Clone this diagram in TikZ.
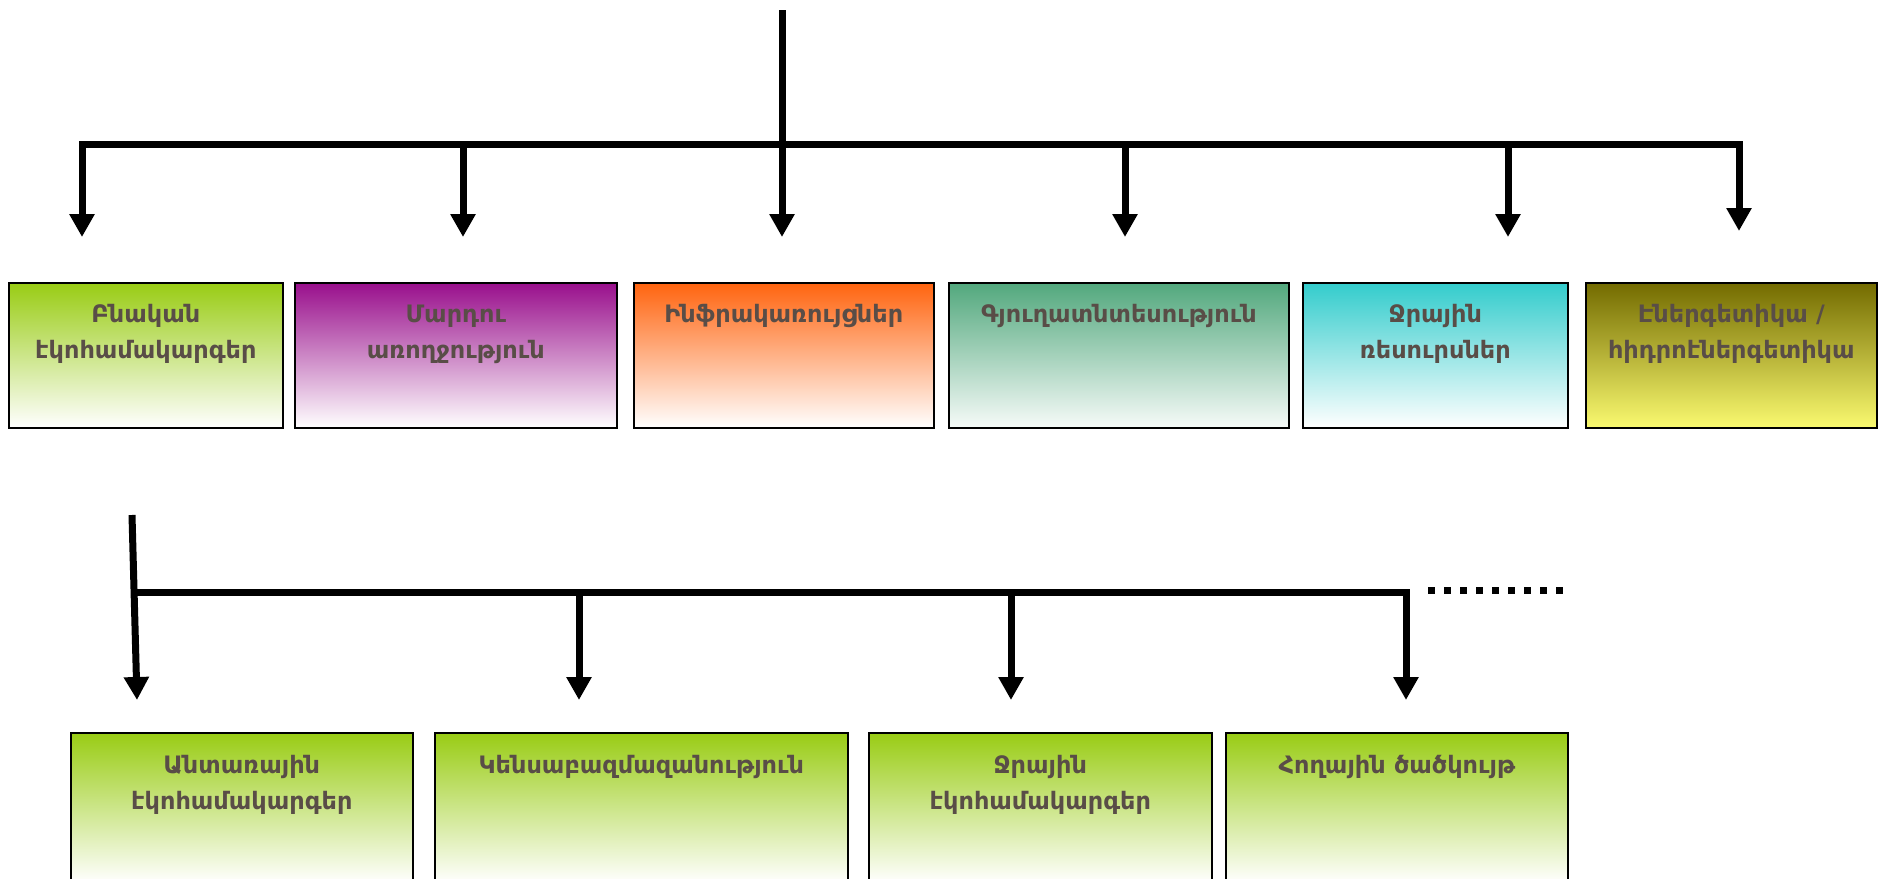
\documentclass[tikz,border=0pt]{standalone}
\usepackage{fontspec}
\setmainfont{DejaVu Sans}
\usetikzlibrary{arrows.meta}
\definecolor{txtgray}{HTML}{594D47}
\definecolor{grnA}{HTML}{99CC14}
\definecolor{purA}{HTML}{990F8C}
\definecolor{orgA}{HTML}{FF640F}
\definecolor{tealA}{HTML}{52A87D}
\definecolor{cyanA}{HTML}{33CCCC}
\definecolor{oliveA}{HTML}{736B00}
\definecolor{yelA}{HTML}{FAFA70}

\begin{document}
\begin{tikzpicture}[x=1pt,y=-1pt,
  box/.style={draw=black,line width=1.6pt,anchor=north west,inner sep=0pt},
  lbl/.style={anchor=base,align=center,text=txtgray,inner sep=0pt,
    font=\bfseries\fontsize{24}{36}\selectfont},
  arr/.style={line width=7pt,-{Triangle[width=24pt,length=23pt]}},
  twoarr/.style={line width=7pt,{Triangle[width=24pt,length=23pt]}-{Triangle[width=24pt,length=23pt]}}]
\clip (0,0) rectangle (1887,878);

% upper row
\node[box,minimum width=274pt,minimum height=145pt,top color=grnA,middle color=grnA!30,bottom color=white] (b1) at (8,282) {};
\node[box,minimum width=322pt,minimum height=145pt,top color=purA,middle color=purA!28,bottom color=white] (b2) at (294,282) {};
\node[box,minimum width=300pt,minimum height=145pt,top color=orgA,middle color=orgA!22,bottom color=white] (b3) at (633,282) {};
\node[box,minimum width=340pt,minimum height=145pt,top color=tealA,middle color=tealA!50,bottom color=tealA!5] (b4) at (948,282) {};
\node[box,minimum width=265pt,minimum height=145pt,top color=cyanA,middle color=cyanA!32,bottom color=white] (b5) at (1302,282) {};
\node[box,minimum width=291pt,minimum height=145pt,top color=oliveA,middle color=oliveA!45!yelA,bottom color=yelA] (b6) at (1585,282) {};

\node[lbl] (b1t) at ([yshift=-76pt]b1.north) {Բնական\\էկոհամակարգեր};
\node[lbl] (b2t) at ([yshift=-76pt]b2.north) {Մարդու\\առողջություն};
\node[lbl] (b3t) at ([yshift=-40pt]b3.north) {Ինֆրակառույցներ};
\node[lbl] (b4t) at ([yshift=-40pt]b4.north) {Գյուղատնտեսություն};
\node[lbl] (b5t) at ([yshift=-76pt]b5.north) {Ջրային\\ռեսուրսներ};
\node[lbl] (b6t) at ([yshift=-76pt]b6.north) {Էներգետիկա /\\հիդրոէներգետիկա};

% lower row
\node[box,minimum width=342pt,minimum height=150pt,top color=grnA,middle color=grnA!30,bottom color=white] (c1) at (70,732) {};
\node[box,minimum width=413pt,minimum height=150pt,top color=grnA,middle color=grnA!30,bottom color=white] (c2) at (434,732) {};
\node[box,minimum width=343pt,minimum height=150pt,top color=grnA,middle color=grnA!30,bottom color=white] (c3) at (868,732) {};
\node[box,minimum width=342pt,minimum height=150pt,top color=grnA,middle color=grnA!30,bottom color=white] (c4) at (1225,732) {};

\node[lbl] (c1t) at ([yshift=-77pt]c1.north) {Անտառային\\էկոհամակարգեր};
\node[lbl] (c2t) at ([yshift=-41pt]c2.north) {Կենսաբազմազանություն};
\node[lbl] (c3t) at ([yshift=-77pt]c3.north) {Ջրային\\էկոհամակարգեր};
\node[lbl] (c4t) at ([yshift=-41pt]c4.north) {Հողային ծածկույթ};

% top tree
\coordinate (root) at (782,10);
\coordinate (a1) at (82,237);
\coordinate (a2) at (463,237);
\coordinate (a3) at (782,237);
\coordinate (a4) at (1125,237);
\coordinate (a5) at (1508,237);
\coordinate (a6) at (1739,231);
\coordinate (bar) at (0,144);
\draw[twoarr,line join=miter] (a1) -- (a1 |- bar) -- (a6 |- bar) -- (a6);
\draw[line width=7pt] (root) -- (root |- bar);
\draw[arr] (a2 |- bar) -- (a2);
\draw[arr] (a3 |- bar) -- (a3);
\draw[arr] (a4 |- bar) -- (a4);
\draw[arr] (a5 |- bar) -- (a5);

% lower tree
\coordinate (s0) at (132,515);
\coordinate (d1) at (137,700);
\coordinate (d2) at (579,700);
\coordinate (d3) at (1011,700);
\coordinate (d4) at (1406,700);
\coordinate (low) at (0,592);
\draw[arr] (s0) -- (d1);
\draw[arr,line join=miter] (134,592) -- (d4 |- low) -- (d4);
\draw[arr] (d2 |- low) -- (d2);
\draw[arr] (d3 |- low) -- (d3);
\coordinate (e1) at (1428,590);
\coordinate (e2) at (1563,590);
\draw[line width=7pt,dash pattern=on 7pt off 9pt] (e1) -- (e2);
\end{tikzpicture}
\end{document}
